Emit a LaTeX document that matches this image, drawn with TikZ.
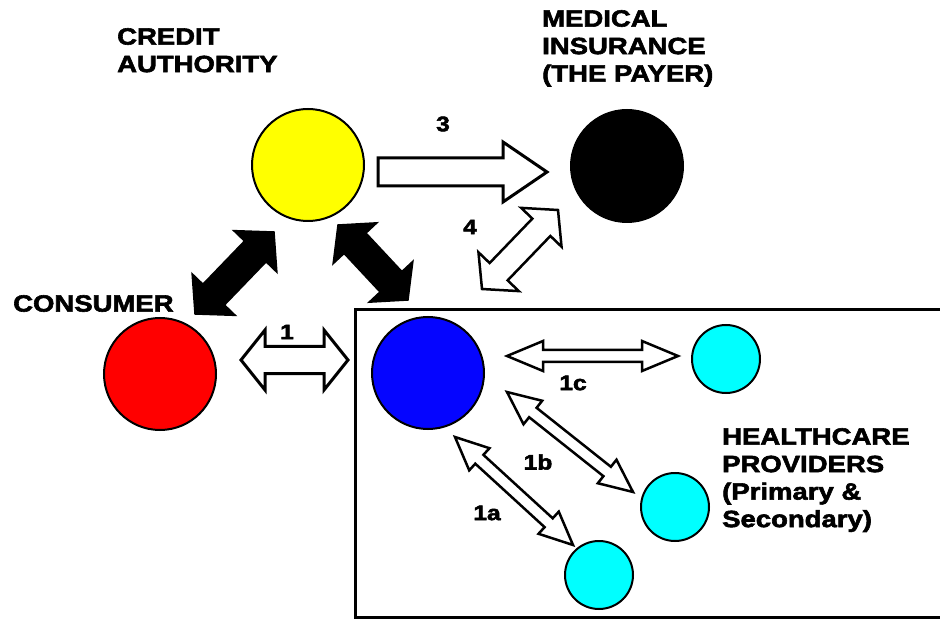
\documentclass[tikz,border=0pt]{standalone}
\usepackage{fontspec}
\newfontfamily\lblfont{Liberation Sans}[FakeStretch=1.17,FakeBold=2.5]
\usetikzlibrary{calc}
\definecolor{ballyellow}{HTML}{FFFF00}
\definecolor{ballred}{HTML}{FF0000}
\definecolor{ballblue}{HTML}{0505FF}
\definecolor{ballcyan}{HTML}{00FFFF}
% double-headed block arrow: A, B, shaft half-width, head half-width, head length, style
\newcommand{\dblarrow}[6]{%
  \coordinate (da1) at ($(#1)!#5!(#2)$);
  \coordinate (da2) at ($(#2)!#5!(#1)$);
  \draw[#6] (#1) -- ($(da1)!#4!90:(#2)$) -- ($(da1)!#3!90:(#2)$)
    -- ($(da2)!#3!-90:(#1)$) -- ($(da2)!#4!-90:(#1)$) -- (#2)
    -- ($(da2)!#4!90:(#1)$) -- ($(da2)!#3!90:(#1)$)
    -- ($(da1)!#3!-90:(#2)$) -- ($(da1)!#4!-90:(#2)$) -- cycle;}
% single-headed block arrow
\newcommand{\sglarrow}[6]{%
  \coordinate (sa2) at ($(#2)!#5!(#1)$);
  \draw[#6] ($(#1)!#3!90:(#2)$) -- ($(sa2)!#3!-90:(#1)$) -- ($(sa2)!#4!-90:(#1)$)
    -- (#2) -- ($(sa2)!#4!90:(#1)$) -- ($(sa2)!#3!90:(#1)$)
    -- ($(#1)!#3!-90:(#2)$) -- cycle;}
\tikzset{
  lbl/.style={font=\lblfont\bfseries\fontsize{23.5}{27.5}\selectfont, align=left, inner sep=0pt, anchor=north west},
  num/.style={font=\lblfont\bfseries\fontsize{21}{24}\selectfont, inner sep=0pt},
  bigball/.style={circle, draw=black, line width=2pt, inner sep=0pt, minimum size=112pt, fill=#1},
  smallball/.style={circle, draw=black, line width=2pt, inner sep=0pt, minimum size=68pt, fill=ballcyan},
  openarrow/.style={draw=black, fill=white, line width=3pt, line join=miter, miter limit=10},
  thinarrow/.style={draw=black, fill=white, line width=2.5pt, line join=miter, miter limit=10},
  solidarrow/.style={draw=black, fill=black, line width=1.5pt, line join=miter},
  frame/.style={draw=black, line width=3pt}
}
\begin{document}
\begin{tikzpicture}[x=1pt, y=-1pt]
\useasboundingbox (0,0) rectangle (940,620);
% providers frame
\draw[frame] (945,310) -- (355,310) -- (355,617) -- (945,617);
% balls
\node[bigball=ballyellow] (credit) at (308,165) {};
\node[bigball=black] (payer) at (627,166) {};
\node[bigball=ballred] (consumer) at (160,374) {};
\node[bigball=ballblue] (provider) at (428,373) {};
\node[smallball] (hc) at (726,359) {};
\node[smallball] (hb) at (675,507) {};
\node[smallball] (ha) at (599,575) {};
% labels
\node[lbl] (lcredit) at (117,28) {CREDIT\\AUTHORITY};
\node[lbl] (lpayer) at (542,10) {MEDICAL\\INSURANCE\\(THE PAYER)};
\node[lbl] (lconsumer) at (13,295) {CONSUMER};
\node[lbl] (lhealth) at (722,428) {HEALTHCARE\\PROVIDERS\\(Primary \&\\Secondary)};
% arrow end points
\coordinate (k1s) at (195,314); \coordinate (k1e) at (274,232);
\coordinate (k2s) at (338,225); \coordinate (k2e) at (408,300);
\coordinate (a3s) at (378,172); \coordinate (a3e) at (547,172);
\coordinate (a4s) at (482,289); \coordinate (a4e) at (558,210);
\coordinate (a1s) at (241,360); \coordinate (a1e) at (348,360);
\coordinate (a1cs) at (507,356); \coordinate (a1ce) at (678,356);
\coordinate (a1bs) at (507,392); \coordinate (a1be) at (633,492);
\coordinate (a1as) at (455,437); \coordinate (a1ae) at (573,545);
% arrows
\dblarrow{k1s}{k1e}{15pt}{30pt}{27pt}{solidarrow}
\dblarrow{k2s}{k2e}{15pt}{30pt}{25pt}{solidarrow}
\sglarrow{a3s}{a3e}{14pt}{30pt}{44pt}{openarrow}
\dblarrow{a4s}{a4e}{12.5pt}{28pt}{24pt}{thinarrow}
\dblarrow{a1s}{a1e}{13.5pt}{30pt}{24pt}{openarrow}
\dblarrow{a1cs}{a1ce}{6pt}{15pt}{36pt}{thinarrow}
\dblarrow{a1bs}{a1be}{6pt}{15pt}{33pt}{thinarrow}
\dblarrow{a1as}{a1ae}{6pt}{15pt}{33pt}{thinarrow}
% arrow numbers
\node[num] (n3) at (443,124) {3};
\node[num] (n4) at (470,227) {4};
\node[num] (n1) at (287,332) {1};
\node[num] (n1c) at (573,383) {1c};
\node[num] (n1b) at (538,462) {1b};
\node[num] (n1a) at (487,513) {1a};
\end{tikzpicture}
\end{document}
